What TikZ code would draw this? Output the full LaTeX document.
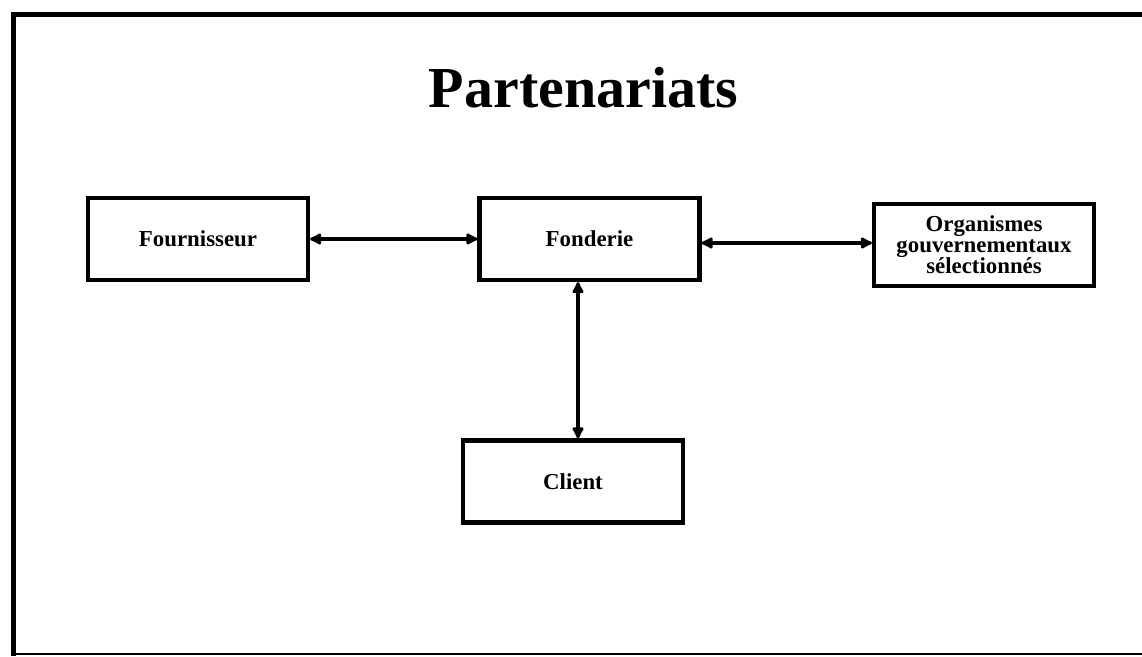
\documentclass[tikz,border=0pt]{standalone}
\usepackage{fontspec}
\setmainfont{Liberation Serif}
\usetikzlibrary{arrows.meta}
\newcommand{\boxw}{4.4cm}
\newcommand{\boxh}{1.64cm}
\newcommand{\tip}{Latex[round,length=8pt,width=8pt]}

\begin{document}
\begin{tikzpicture}[
      x=0.02cm, y=-0.02cm, %one unit is one pixel of the scan
      frame/.style={line width=2.6pt},
      partner/.style={draw, line width=2.4pt, minimum width=\boxw, minimum height=\boxh,
        inner sep=2pt, align=center, font=\fontsize{13}{12}\selectfont\bfseries},
      link/.style={line width=2.4pt, {\tip}-{\tip}},
      heading/.style={font=\fontsize{33}{36}\selectfont\bfseries}
    ]
    \useasboundingbox (0,0) rectangle (1142,656);
    % frame of the slide
    \draw[frame] (1142,14.5) -- (13.5,14.5) -- (13.5,656);
    \draw[line width=1.2pt] (13.5,654) -- (1142,654);
    % title
    \node[heading, anchor=base] (title) at (583.5,107) {Partenariats};
    % the partners
    \node[partner] (fournisseur) at (198,239) {Fournisseur};
    \node[partner] (fonderie) at (589.5,239) {Fonderie};
    \node[partner] (organismes) at (984,245) {Organismes\\gouvernementaux\\sélectionnés};
    \node[partner] (client) at (573,481.5) {Client};
    % links between them
    \draw[link] (fournisseur.east) -- (fonderie.west);
    \draw[link] ([yshift=-0.08cm]fonderie.east) -- ([yshift=-0.08cm]fonderie.east -| organismes.west);
    \draw[link] ([xshift=0.1cm]client.north |- fonderie.south) -- ([xshift=0.1cm]client.north);
\end{tikzpicture}
\end{document}
